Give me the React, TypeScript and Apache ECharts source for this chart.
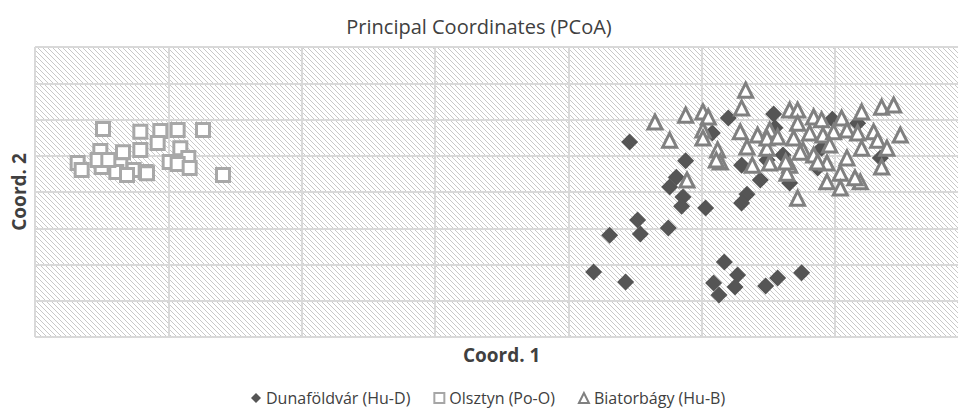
import React, { useEffect, useRef } from "react";
import * as echarts from "echarts";

// Coordinates in grid units (x: 0..7, y: 0..8)
const seriesNames = ["Dunaföldvár (Hu-D)", "Olsztyn (Po-O)", "Biatorbágy (Hu-B)"];

const dunafoldvar: number[][] = [
  [4.46, 5.38], [5.2, 6.04], [5.54, 6.15], [5.98, 6.01], [5.08, 5.63], [5.55, 5.77],
  [4.88, 4.86], [4.81, 4.41], [4.76, 4.14], [4.86, 3.86], [4.85, 3.61], [5.03, 3.56],
  [4.52, 3.23], [4.75, 3.01], [4.31, 2.81], [4.54, 2.84], [4.19, 1.79], [4.43, 1.52],
  [5.17, 2.07], [5.27, 1.71], [5.09, 1.49], [5.25, 1.38], [5.13, 1.16], [5.48, 1.41],
  [5.57, 1.63], [5.75, 1.77], [5.3, 4.74], [5.44, 4.33], [5.34, 3.94], [5.3, 3.7],
  [5.61, 5.02], [5.49, 4.88], [5.87, 4.66], [5.66, 4.25], [6.34, 4.94], [5.9, 5.21],
  [6.17, 5.9],
];

const olsztyn: number[][] = [
  [0.51, 5.74], [0.79, 5.66], [0.94, 5.68], [1.07, 5.71], [1.26, 5.71], [0.92, 5.35],
  [0.49, 5.13], [0.66, 5.1], [0.79, 5.16], [1.09, 5.21], [1.15, 4.94], [0.32, 4.8],
  [0.35, 4.61], [0.5, 4.69], [0.64, 4.74], [0.61, 4.55], [0.74, 4.61], [0.83, 4.55],
  [1.01, 4.83], [1.07, 4.77], [1.16, 4.66], [1.41, 4.47], [0.47, 4.88], [0.55, 4.88],
  [0.69, 4.47], [0.84, 4.52],
];

const biatorbagy: number[][] = [
  [5.33, 6.81], [5.3, 6.32], [4.65, 5.93], [4.88, 6.12], [5.01, 6.21], [5.05, 6.07],
  [5.01, 5.71], [5.01, 5.49], [4.76, 5.43], [5.12, 5.16], [5.14, 4.83], [4.89, 4.33],
  [5.38, 4.74], [5.29, 5.66], [5.42, 5.57], [5.51, 5.71], [5.34, 5.24], [5.49, 5.21],
  [5.66, 6.26], [5.72, 6.26], [5.84, 6.07], [5.9, 5.99], [5.72, 5.9], [5.69, 5.49],
  [5.81, 5.63], [5.91, 5.57], [5.99, 5.66], [6.05, 6.04], [6.09, 5.71], [6.2, 6.21],
  [6.17, 5.63], [5.96, 5.3], [5.76, 5.16], [5.66, 4.74], [5.94, 4.8], [6.09, 4.94],
  [6.04, 4.52], [5.94, 4.28], [6.19, 4.28], [6.04, 4.11], [5.72, 3.83], [5.64, 4.52],
  [6.35, 6.34], [6.44, 6.4], [6.29, 5.66], [6.32, 5.43], [6.49, 5.57], [6.2, 5.21],
  [6.35, 4.69], [6.39, 5.21], [5.49, 5.49], [5.57, 5.52], [5.84, 5.02], [5.11, 4.88],
  [5.74, 5.1], [5.87, 4.83], [6.15, 4.39], [5.63, 4.83], [5.51, 4.8],
];

function makeHatch(): HTMLCanvasElement {
  const n = 5;
  const c = document.createElement("canvas");
  c.width = n;
  c.height = n;
  const ctx = c.getContext("2d")!;
  ctx.fillStyle = "#ffffff";
  ctx.fillRect(0, 0, n, n);
  ctx.strokeStyle = "#c8c8c8";
  ctx.lineWidth = 1;
  for (const k of [-n, 0, n]) {
    ctx.beginPath();
    ctx.moveTo(k, 0);
    ctx.lineTo(k + n, n);
    ctx.stroke();
  }
  return c;
}

export default function App() {
  const ref = useRef<HTMLDivElement>(null);
  useEffect(() => {
    if (!ref.current) return;
    const chart = echarts.init(ref.current, undefined, { renderer: "svg" });
    const hatch = makeHatch();
    const font = "'Open Sans', 'Noto Sans', sans-serif";
    chart.setOption({
      animation: false,
      backgroundColor: "#ffffff",
      title: {
        text: "Principal Coordinates (PCoA)",
        left: "center",
        top: 11,
        textStyle: { fontFamily: font, fontSize: 20, fontWeight: "normal", color: "#404040" },
      },
      grid: {
        show: true,
        left: 35,
        top: 47,
        width: 933.3,
        height: 290,
        outerBoundsMode: "none",
        containLabel: false,
        borderWidth: 0,
        backgroundColor: { image: hatch, repeat: "repeat", imageWidth: 5, imageHeight: 5 } as any,
      },
      legend: {
        left: 246,
        top: 385,
        itemWidth: 10,
        itemHeight: 10,
        itemGap: 23,
        textStyle: { fontFamily: font, fontSize: 16, color: "#404040" },
        data: [
          { name: seriesNames[0], icon: "diamond", itemStyle: { color: "#555555", borderWidth: 0 } },
          { name: seriesNames[1], icon: "rect", itemStyle: { color: "#ffffff", borderColor: "#a6a6a6", borderWidth: 2 } },
          { name: seriesNames[2], icon: "triangle", itemStyle: { color: "#ffffff", borderColor: "#808080", borderWidth: 2 } },
        ],
      },
      xAxis: {
        type: "value",
        min: 0,
        max: 7,
        interval: 1,
        name: "Coord. 1",
        nameLocation: "middle",
        nameGap: 8,
        nameTextStyle: { fontFamily: font, fontSize: 19, fontWeight: "bold", color: "#404040" },
        axisLine: { show: false },
        axisTick: { show: false },
        axisLabel: { show: false },
        splitLine: { show: true, lineStyle: { color: "#d9d9d9", width: 2 } },
      },
      yAxis: {
        type: "value",
        min: 0,
        max: 8,
        interval: 1,
        name: "Coord. 2",
        nameLocation: "middle",
        nameGap: 7,
        nameTextStyle: { fontFamily: font, fontSize: 19, fontWeight: "bold", color: "#404040" },
        axisLine: { show: false },
        axisTick: { show: false },
        axisLabel: { show: false },
        splitLine: { show: true, lineStyle: { color: "#d9d9d9", width: 2 } },
      },
      series: [
        {
          name: seriesNames[0],
          type: "scatter",
          symbol: "diamond",
          symbolSize: 17,
          itemStyle: { color: "#555555", opacity: 1 },
          data: dunafoldvar,
        },
        {
          name: seriesNames[1],
          type: "scatter",
          symbol: "rect",
          symbolSize: 13,
          itemStyle: { color: "#ffffff", borderColor: "#a8a8a8", borderWidth: 3, opacity: 1 },
          data: olsztyn,
        },
        {
          name: seriesNames[2],
          type: "scatter",
          symbol: "triangle",
          symbolSize: 14,
          itemStyle: { color: "#ffffff", borderColor: "#808080", borderWidth: 3, opacity: 1 },
          data: biatorbagy,
        },
      ],
    });
    return () => chart.dispose();
  }, []);
  return (
    <div
      ref={ref}
      style={{ position: "fixed", left: 0, top: 0, width: 958, height: 409 }}
    />
  );
}
